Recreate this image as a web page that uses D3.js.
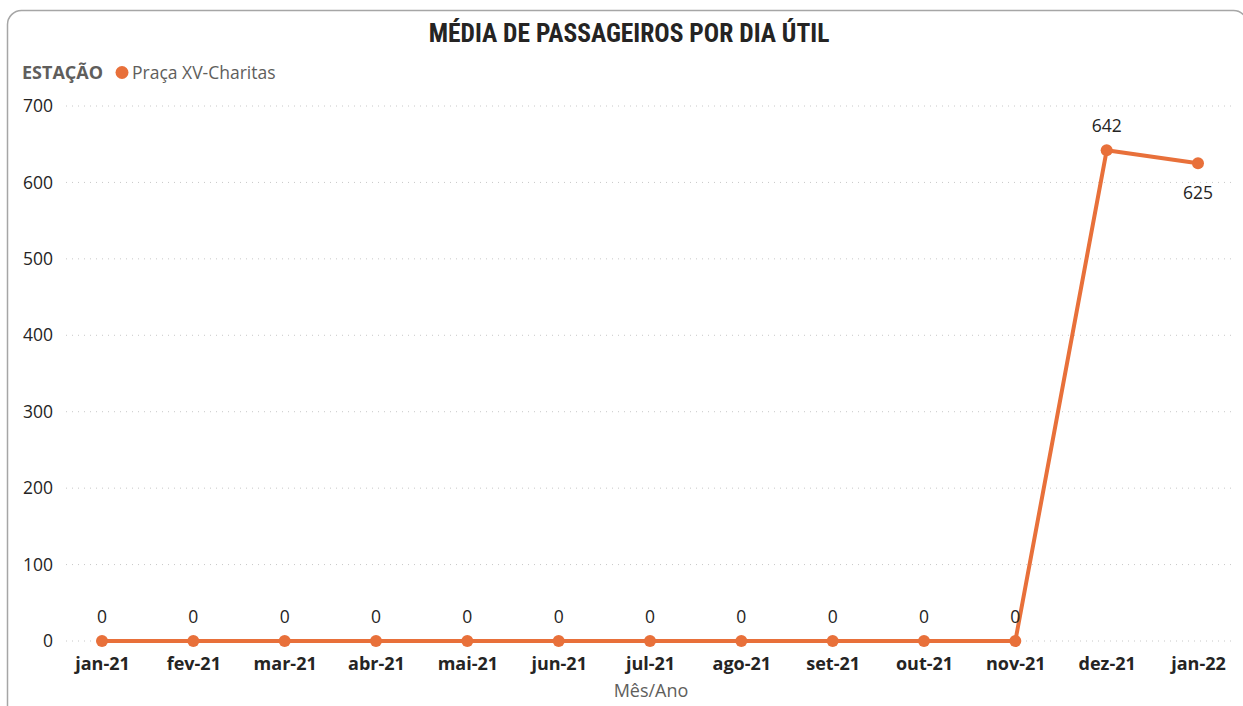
<!DOCTYPE html>
<html>
<head>
<meta charset="utf-8">
<script src="https://cdn.jsdelivr.net/npm/d3@7"></script>
<style>
  body { margin: 0; background: #fff; }
  text { font-family: "Segoe UI", "Open Sans", "Noto Sans", sans-serif; }
</style>
</head>
<body>
<script>
const months = ['jan-21', 'fev-21', 'mar-21', 'abr-21', 'mai-21', 'jun-21', 'jul-21',
  'ago-21', 'set-21', 'out-21', 'nov-21', 'dez-21', 'jan-22'];
const passengers = [0, 0, 0, 0, 0, 0, 0, 0, 0, 0, 0, 642, 625];
const yTicks = [0, 100, 200, 300, 400, 500, 600, 700];

const width = 1243, height = 706;
const lineColor = '#E8703A';

const svg = d3.select('body').append('svg')
    .attr('width', width).attr('height', height);

// card border
svg.append('rect')
    .attr('x', 7.5).attr('y', 10.5)
    .attr('width', 1240).attr('height', 710)
    .attr('rx', 14)
    .attr('fill', '#fff')
    .attr('stroke', '#a6a6a6')
    .attr('stroke-width', 1.5);

svg.append('text')
    .attr('x', 629).attr('y', 42)
    .attr('text-anchor', 'middle')
    .style('font-family', '"Roboto Condensed", Roboto, sans-serif')
    .style('font-size', '25.5px')
    .style('font-weight', 'bold')
    .attr('fill', '#252423')
    .text('MÉDIA DE PASSAGEIROS POR DIA ÚTIL');

// legend
svg.append('text')
    .attr('x', 22).attr('y', 79)
    .style('font-size', '18px').style('font-weight', 'bold')
    .attr('fill', '#605e5c')
    .text('ESTAÇÃO');
svg.append('circle').attr('cx', 122).attr('cy', 72.5).attr('r', 6.5).attr('fill', lineColor);
svg.append('text')
    .attr('x', 132).attr('y', 79)
    .style('font-size', '17.5px')
    .attr('fill', '#605e5c')
    .text('Praça XV-Charitas');

const x = d3.scalePoint().domain(months).range([102, 1198]);
const y = d3.scaleLinear().domain([0, 700]).range([641, 106]);

// gridlines
svg.append('g')
  .selectAll('line')
  .data(yTicks)
  .enter().append('line')
    .attr('x1', 66).attr('x2', 1232)
    .attr('y1', d => y(d)).attr('y2', d => y(d))
    .attr('stroke', '#c8c8c8')
    .attr('stroke-width', 1)
    .attr('stroke-dasharray', '1,5');

// y axis
const yAxis = svg.append('g')
    .attr('transform', 'translate(53,0)')
    .call(d3.axisLeft(y).tickValues(yTicks).tickSize(0).tickPadding(0));
yAxis.select('.domain').remove();
yAxis.selectAll('text')
    .style('font-size', '17.5px')
    .style('font-family', '"Segoe UI", "Open Sans", sans-serif')
    .attr('fill', '#252423');

// x axis
const xAxis = svg.append('g')
    .attr('transform', 'translate(0,657)')
    .call(d3.axisBottom(x).tickSize(0).tickPadding(0));
xAxis.select('.domain').remove();
xAxis.selectAll('text')
    .style('font-size', '18px')
    .style('font-weight', 'bold')
    .style('font-family', '"Segoe UI", "Open Sans", sans-serif')
    .attr('fill', '#252423');

svg.append('text')
    .attr('x', 651).attr('y', 697)
    .attr('text-anchor', 'middle')
    .style('font-size', '18px')
    .attr('fill', '#605e5c')
    .text('Mês/Ano');

const data = months.map((m, i) => ({ month: m, value: passengers[i] }));

svg.append('path')
    .datum(data)
    .attr('fill', 'none')
    .attr('stroke', lineColor)
    .attr('stroke-width', 4)
    .attr('stroke-linejoin', 'round')
    .attr('d', d3.line().x(d => x(d.month)).y(d => y(d.value)));

svg.selectAll('.dot')
    .data(data)
    .enter().append('circle')
    .attr('class', 'dot')
    .attr('cx', d => x(d.month))
    .attr('cy', d => y(d.value))
    .attr('r', 6)
    .attr('fill', lineColor);

// data labels: last one sits below the point
svg.selectAll('.lbl')
    .data(data)
    .enter().append('text')
    .attr('class', 'lbl')
    .attr('x', d => x(d.month))
    .attr('y', (d, i) => i === data.length - 1 ? y(d.value) + 36 : y(d.value) - 18)
    .attr('text-anchor', 'middle')
    .style('font-size', '17.5px')
    .attr('fill', '#252423')
    .text(d => d.value);
</script>
</body>
</html>
